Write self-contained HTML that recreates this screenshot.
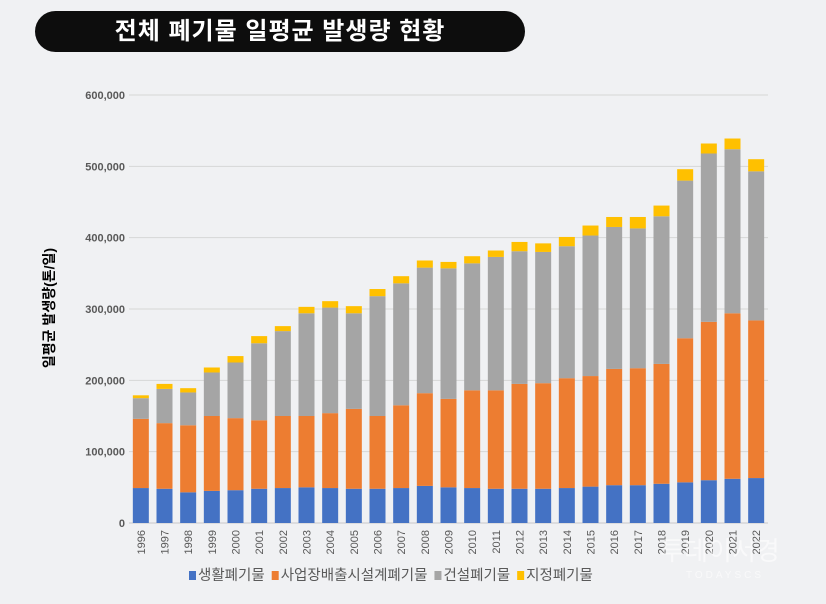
<!DOCTYPE html>
<html><head><meta charset="utf-8">
<style>
html,body{margin:0;padding:0;background:#f0f1f3;}
body{width:826px;height:604px;position:relative;overflow:hidden;font-family:"Liberation Sans","Noto Sans CJK KR",sans-serif;}
#title{position:absolute;left:35px;top:11px;width:490px;height:41px;background:#0d0d0d;border-radius:21px;color:#fff;font-weight:bold;font-size:24px;line-height:41px;text-align:center;letter-spacing:1px;}
</style></head><body>
<div id="title">전체 폐기물 일평균 발생량 현황</div>
<svg id="chart" width="826" height="604" style="position:absolute;left:0;top:0"></svg>
<script>
const years=["1996","1997","1998","1999","2000","2001","2002","2003","2004","2005","2006","2007","2008","2009","2010","2011","2012","2013","2014","2015","2016","2017","2018","2019","2020","2021","2022"];
const household=[49,48,43,45,46,48,49,50,49,48,48,49,52,50,49,48,48,48,49,51,53,53,55,57,60,62,63];
const industrial=[97,92,94,105,101,96,101,100,105,112,102,116,130,124,137,138,147,148,154,155,163,164,168,202,222,232,221];
const construction=[29,48,46,61,78,108,119,144,148,134,168,171,176,183,178,187,186,184,185,197,199,196,207,221,236,230,209];
const designated=[4,7,6,7,9,10,7,9,9,10,10,10,10,9,10,9,13,12,13,14,14,16,15,16,14,15,17];
const yTicks=[0,100,200,300,400,500,600];
const yTickLabels=["0","100,000","200,000","300,000","400,000","500,000","600,000"];
const seriesNames=["생활폐기물","사업장배출시설계폐기물","건설폐기물","지정폐기물"];
const colors=["#4472c4","#ed7d31","#a5a5a5","#ffc000"];
const NS="http://www.w3.org/2000/svg";
const svg=document.getElementById('chart');
const x0=129,x1=768,yBase=523,yTop=95,yMax=600;
const y=v=>yBase-(v/yMax)*(yBase-yTop);
const step=(x1-x0)/years.length;
const xc=i=>x0+step*(i+0.5);
const bw=16;
function mk(tag,attrs){const e=document.createElementNS(NS,tag);for(const k in attrs)e.setAttribute(k,attrs[k]);svg.appendChild(e);return e;}
yTicks.forEach((t,i)=>{
  const g=mk('line',{x1:x0,x2:x1,y1:y(t),y2:y(t),stroke:i==0?'#c8c8c8':'#d6d6d6','stroke-width':1});
  
  
  const tx=mk('text',{x:125,y:y(t)+4,'text-anchor':'end','font-size':11,'font-weight':'bold',fill:'#595959'});
  tx.textContent=yTickLabels[i];
  
  
});
const series=[household,industrial,construction,designated];
years.forEach((yr,i)=>{
  let cum=0;
  series.forEach((s,k)=>{
    const r=mk('rect',{x:xc(i)-bw/2,y:y(cum+s[i]),width:bw,height:y(cum)-y(cum+s[i]),fill:colors[k]});
    
    
    cum+=s[i];
  });
  const t=mk('text',{x:0,y:0,'font-size':11,fill:'#595959',transform:`translate(${xc(i)+4},${530}) rotate(-90)`,'text-anchor':'end'});
  t.textContent=yr;
  
  
});
const yt=mk('text',{x:0,y:0,'font-size':14,'font-weight':'bold',fill:'#000','text-anchor':'middle',transform:'translate(54,308) rotate(-90)'});
yt.textContent='일평균 발생량(톤/일)';


let lx=189;
seriesNames.forEach((n,k)=>{
  const r=mk('rect',{x:lx,y:571,width:7,height:9,fill:colors[k]});
  
  
  const t=mk('text',{x:lx+9,y:580,'font-size':14.5,fill:'#595959'});
  t.textContent=n;
  
  
  lx+=9+t.getComputedTextLength()+7;
});
const wm=mk('text',{x:720,y:560,'font-size':26,fill:'#ffffff','fill-opacity':0.6,'text-anchor':'middle'});
wm.textContent='투데이서경';


const wm2=mk('text',{x:725,y:578,'font-size':10,fill:'#ffffff','fill-opacity':0.6,'text-anchor':'middle','letter-spacing':3});
wm2.textContent='TODAYSCS';


</script>
</body></html>
